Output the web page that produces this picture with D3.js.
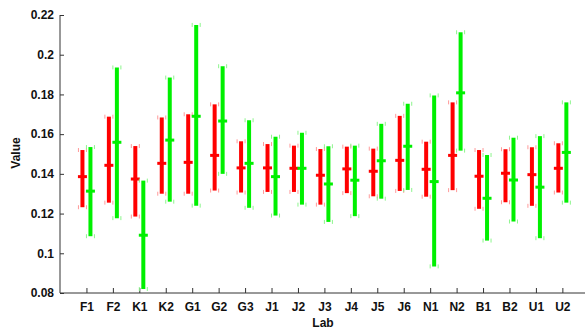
<!DOCTYPE html>
<html>
<head>
<meta charset="utf-8">
<script src="https://cdn.jsdelivr.net/npm/d3@7"></script>
<style>
  body { margin: 0; background: #fff; }
  svg { display: block; font-family: "Liberation Sans", Arial, sans-serif; }
  .tick text { font-weight: bold; font-size: 12px; fill: #111; }
  .axis-title { font-weight: bold; font-size: 12px; fill: #111; }
</style>
</head>
<body>
<div id="chart"></div>
<script>
const labs = ["F1", "F2", "K1", "K2", "G1", "G2", "G3", "J1", "J2", "J3", "J4", "J5", "J6", "N1", "N2", "B1", "B2", "U1", "U2"];

// red series
const redLow = [0.1232, 0.1255, 0.1185, 0.130, 0.130, 0.1316, 0.1306, 0.1309, 0.1309, 0.1245, 0.1303, 0.1287, 0.1314, 0.1285, 0.1318, 0.1224, 0.1257, 0.1239, 0.1306];
const redMid = [0.1386, 0.1443, 0.1374, 0.1453, 0.1458, 0.1493, 0.143, 0.143, 0.1428, 0.1393, 0.1425, 0.1413, 0.1468, 0.1423, 0.1493, 0.1388, 0.1403, 0.1396, 0.1428];
const redHigh = [0.152, 0.1688, 0.154, 0.1684, 0.170, 0.175, 0.1564, 0.155, 0.1542, 0.1525, 0.1537, 0.1527, 0.1692, 0.1562, 0.176, 0.152, 0.1524, 0.1534, 0.1554];

// green series
const greenLow = [0.1086, 0.1177, 0.082, 0.126, 0.124, 0.140, 0.1229, 0.119, 0.1245, 0.1158, 0.1187, 0.1275, 0.1319, 0.0934, 0.1517, 0.1064, 0.116, 0.1076, 0.1255];
const greenMid = [0.1313, 0.1559, 0.1091, 0.157, 0.169, 0.1666, 0.1453, 0.1386, 0.1428, 0.1349, 0.1368, 0.1466, 0.1539, 0.1361, 0.1808, 0.1277, 0.1369, 0.1333, 0.1508];
const greenHigh = [0.1535, 0.1936, 0.1366, 0.1885, 0.215, 0.1942, 0.167, 0.1587, 0.1607, 0.1539, 0.1542, 0.1652, 0.1753, 0.1795, 0.2113, 0.1495, 0.1582, 0.159, 0.176];

const yTicks = [0.08, 0.1, 0.12, 0.14, 0.16, 0.18, 0.2, 0.22];

const width = 585, height = 329;
const margin = { left: 60, top: 15, bottom: 36 };

const svg = d3.select("#chart").append("svg").attr("width", width).attr("height", height);

const x = d3.scaleLinear().domain([0, labs.length + 1]).range([margin.left, margin.left + 26.44 * (labs.length + 1)]);
const y = d3.scaleLinear().domain([0.08, 0.22]).range([height - margin.bottom, margin.top]);

const series = [
  { name: "red", low: redLow, mid: redMid, high: redHigh, color: "#ff0000", cap: "#ff9a9a", dx: -4 },
  { name: "green", low: greenLow, mid: greenMid, high: greenHigh, color: "#00f000", cap: "#8ef58e", dx: 4 }
];

// axes
const yAxis = d3.axisLeft(y).tickValues(yTicks).tickSize(-4).tickPadding(6).tickFormat((d) => String(+d.toFixed(2)));
svg.append("g").attr("transform", `translate(${margin.left},0)`).call(yAxis)
  .call((g) => g.select(".domain").attr("stroke", "#333").attr("d", `M0,${y(0.22)}V${y(0.08)}`));

const xAxis = d3.axisBottom(x).tickValues(labs.map((d, i) => i + 1)).tickSize(-5).tickPadding(9)
  .tickFormat((d) => labs[d - 1]);
svg.append("g").attr("transform", `translate(0,${y(0.08)})`).call(xAxis)
  .call((g) => g.select(".domain").attr("stroke", "#333").attr("d", `M${margin.left},0H${width}`));

svg.selectAll(".tick line").attr("stroke", "#333");

svg.append("text").attr("class", "axis-title").attr("text-anchor", "middle")
  .attr("x", 323).attr("y", 327).text("Lab");
svg.append("text").attr("class", "axis-title").attr("text-anchor", "middle")
  .attr("transform", `translate(20,153) rotate(-90)`).text("Value");

// error bars
for (const s of series) {
  const g = svg.append("g").attr("class", `bars-${s.name}`);
  const rows = labs.map((lab, i) => ({ i, low: s.low[i], mid: s.mid[i], high: s.high[i] }));
  const cx = (d) => x(d.i + 1) + s.dx;
  // faint caps either side of the bar ends
  for (const side of [-4, 4]) {
    for (const key of ["low", "high"]) {
      g.selectAll(null).data(rows).join("line")
        .attr("x1", (d) => cx(d) + side).attr("x2", (d) => cx(d) + side)
        .attr("y1", (d) => y(d[key]) - 2).attr("y2", (d) => y(d[key]) + 2)
        .attr("stroke", s.cap).attr("stroke-width", 1);
    }
  }
  g.selectAll(null).data(rows).join("line")
    .attr("x1", cx).attr("x2", cx)
    .attr("y1", (d) => y(d.low)).attr("y2", (d) => y(d.high))
    .attr("stroke", s.color).attr("stroke-width", 4);
  g.selectAll(null).data(rows).join("line")
    .attr("x1", (d) => cx(d) - 4.5).attr("x2", (d) => cx(d) + 4.5)
    .attr("y1", (d) => y(d.mid)).attr("y2", (d) => y(d.mid))
    .attr("stroke", s.color).attr("stroke-width", 3);
}
</script>
</body>
</html>
